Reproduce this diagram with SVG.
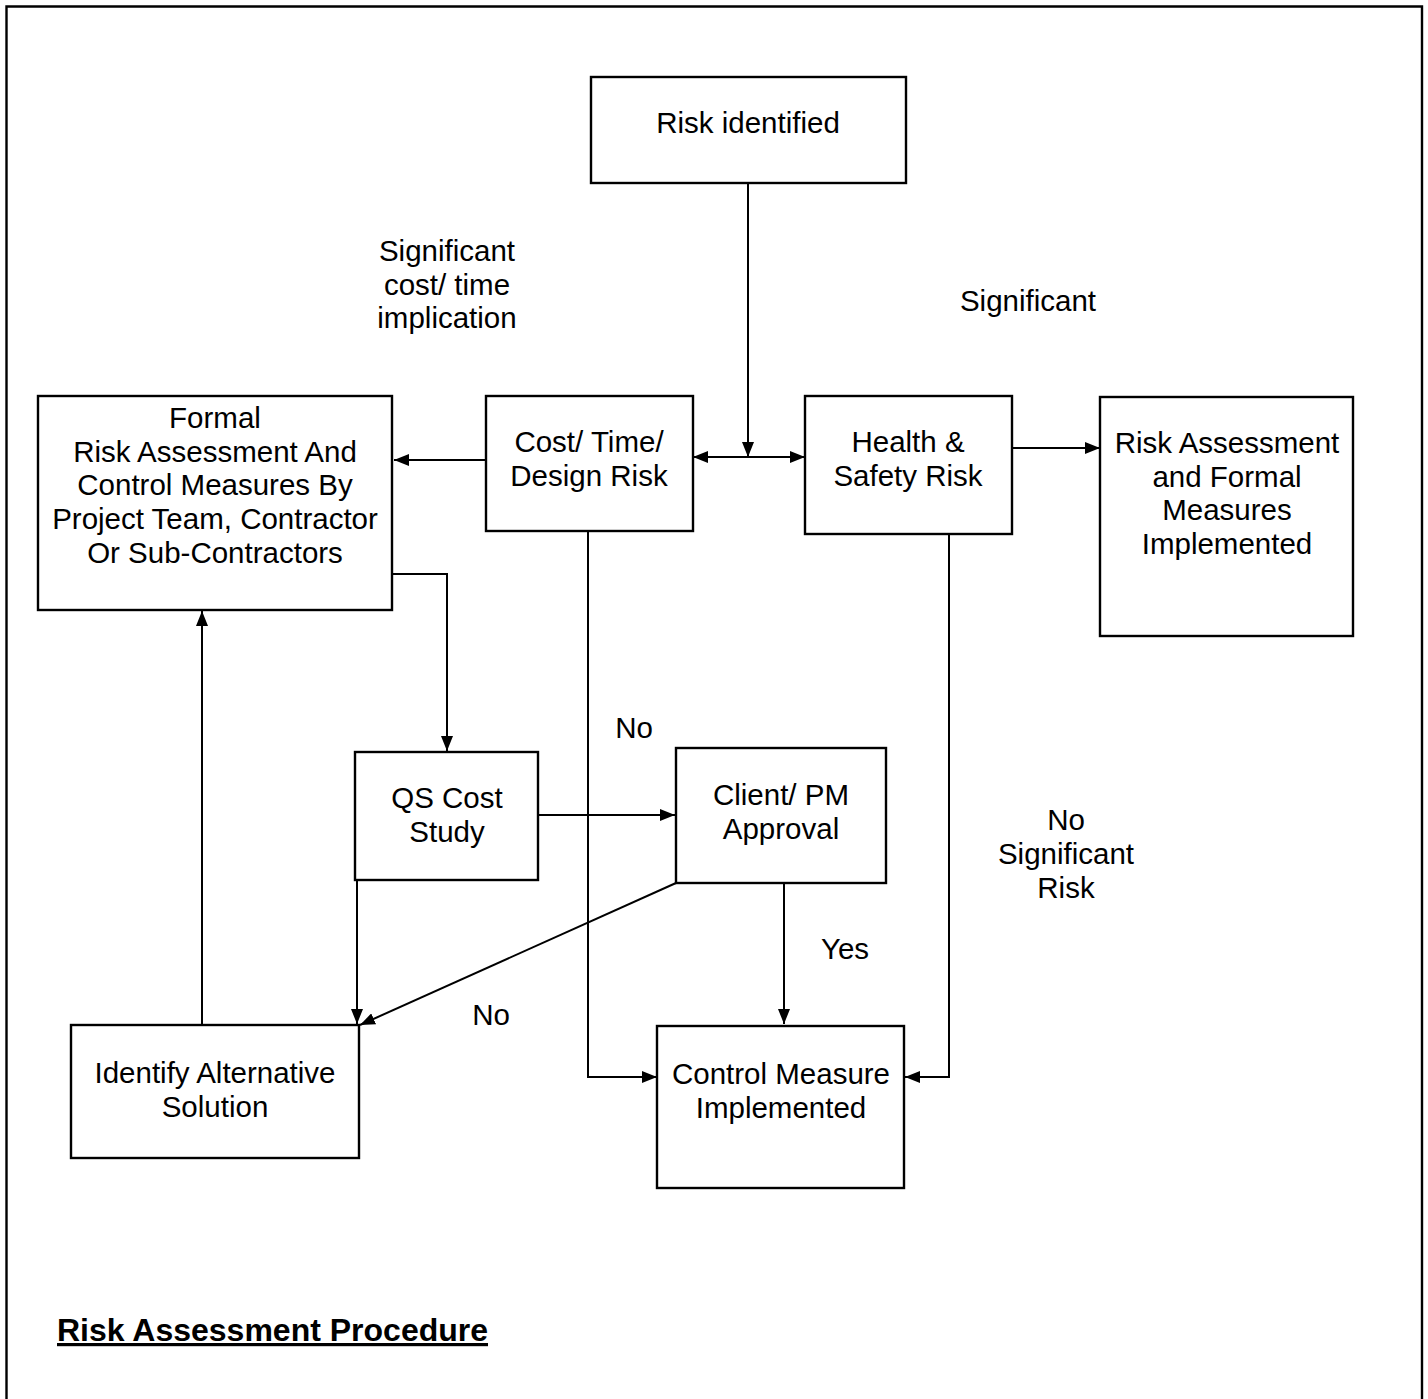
<svg xmlns="http://www.w3.org/2000/svg" width="1428" height="1399" viewBox="0 0 1428 1399">
  <style>
    .box { fill: #fff; stroke: #000; stroke-width: 2.4; }
    .lbl { font-family: "Liberation Sans", Arial, sans-serif; font-size: 29.5px; fill: #000; text-anchor: middle; }
    .wire { fill: none; stroke: #000; stroke-width: 2; }
    .title { font-family: "Liberation Sans", Arial, sans-serif; font-size: 32px; font-weight: bold; text-decoration: underline; fill: #000; }
  </style>
  <defs>
    <marker id="arrow" viewBox="0 0 15 12" refX="15" refY="6" markerWidth="15" markerHeight="12" markerUnits="userSpaceOnUse" orient="auto-start-reverse">
      <path d="M0,0 L15,6 L0,12 Z" fill="#000"/>
    </marker>
  </defs>

  <rect width="1428" height="1399" fill="#fff"/>
  <!-- page frame (open at the bottom) -->
  <path d="M6.5,1399 V6.5 H1422 V1399" fill="none" stroke="#000" stroke-width="2.4"/>

  <g id="connectors">
    <line class="wire" x1="748" y1="183" x2="748" y2="457" marker-end="url(#arrow)"/>
    <line class="wire" x1="693" y1="457" x2="805" y2="457" marker-start="url(#arrow)" marker-end="url(#arrow)"/>
    <line class="wire" x1="486" y1="460" x2="394" y2="460" marker-end="url(#arrow)"/>
    <line class="wire" x1="1012" y1="448" x2="1100" y2="448" marker-end="url(#arrow)"/>
    <polyline class="wire" points="392,574 447,574 447,751" marker-end="url(#arrow)"/>
    <line class="wire" x1="538" y1="815" x2="675" y2="815" marker-end="url(#arrow)"/>
    <polyline class="wire" points="588,531 588,1077 657,1077" marker-end="url(#arrow)"/>
    <polyline class="wire" points="949,534 949,1077 905,1077" marker-end="url(#arrow)"/>
    <line class="wire" x1="784" y1="883" x2="784" y2="1024" marker-end="url(#arrow)"/>
    <line class="wire" x1="676" y1="883" x2="360" y2="1025" marker-end="url(#arrow)"/>
    <line class="wire" x1="357" y1="880" x2="357" y2="1024" marker-end="url(#arrow)"/>
    <line class="wire" x1="202" y1="1025" x2="202" y2="611" marker-end="url(#arrow)"/>
  </g>

  <g id="risk-identified">
    <rect class="box" x="591" y="77" width="315" height="106"/>
    <text class="lbl" x="748" y="133">Risk identified</text>
  </g>

  <g id="formal-assessment">
    <rect class="box" x="38" y="396" width="354" height="214"/>
    <text class="lbl" x="215" y="428">Formal</text>
    <text class="lbl" x="215" y="462">Risk Assessment And</text>
    <text class="lbl" x="215" y="495">Control Measures By</text>
    <text class="lbl" x="215" y="529">Project Team, Contractor</text>
    <text class="lbl" x="215" y="563">Or Sub-Contractors</text>
  </g>

  <g id="cost-time-design">
    <rect class="box" x="486" y="396" width="207" height="135"/>
    <text class="lbl" x="589" y="452">Cost/ Time/</text>
    <text class="lbl" x="589" y="486">Design Risk</text>
  </g>

  <g id="health-safety">
    <rect class="box" x="805" y="396" width="207" height="138"/>
    <text class="lbl" x="908" y="452">Health &amp;</text>
    <text class="lbl" x="908" y="486">Safety Risk</text>
  </g>

  <g id="ra-implemented">
    <rect class="box" x="1100" y="397" width="253" height="239"/>
    <text class="lbl" x="1227" y="453">Risk Assessment</text>
    <text class="lbl" x="1227" y="487">and Formal</text>
    <text class="lbl" x="1227" y="520">Measures</text>
    <text class="lbl" x="1227" y="554">Implemented</text>
  </g>

  <g id="qs-cost-study">
    <rect class="box" x="355" y="752" width="183" height="128"/>
    <text class="lbl" x="447" y="808">QS Cost</text>
    <text class="lbl" x="447" y="842">Study</text>
  </g>

  <g id="client-approval">
    <rect class="box" x="676" y="748" width="210" height="135"/>
    <text class="lbl" x="781" y="805">Client/ PM</text>
    <text class="lbl" x="781" y="839">Approval</text>
  </g>

  <g id="identify-alternative">
    <rect class="box" x="71" y="1025" width="288" height="133"/>
    <text class="lbl" x="215" y="1083">Identify Alternative</text>
    <text class="lbl" x="215" y="1117">Solution</text>
  </g>

  <g id="control-measure">
    <rect class="box" x="657" y="1026" width="247" height="162"/>
    <text class="lbl" x="781" y="1084">Control Measure</text>
    <text class="lbl" x="781" y="1118">Implemented</text>
  </g>

  <g id="edge-labels">
    <text class="lbl" x="447" y="261">Significant</text>
    <text class="lbl" x="447" y="295">cost/ time</text>
    <text class="lbl" x="447" y="328">implication</text>
    <text class="lbl" x="1028" y="311">Significant</text>
    <text class="lbl" x="634" y="738">No</text>
    <text class="lbl" x="1066" y="830">No</text>
    <text class="lbl" x="1066" y="864">Significant</text>
    <text class="lbl" x="1066" y="898">Risk</text>
    <text class="lbl" x="845" y="959">Yes</text>
    <text class="lbl" x="491" y="1025">No</text>
  </g>

  <text class="title" x="57" y="1341">Risk Assessment Procedure</text>
</svg>
